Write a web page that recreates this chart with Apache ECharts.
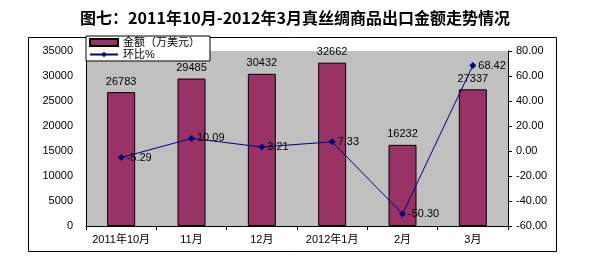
<!DOCTYPE html>
<html>
<head>
<meta charset="utf-8">
<script src="https://cdn.jsdelivr.net/npm/echarts@6/dist/echarts.min.js"></script>
<style>html,body{margin:0;padding:0;background:#fff;}#c{width:590px;height:261px;}</style>
</head>
<body>
<div id="c"></div>
<script>
const categories = ['2011年10月', '11月', '12月', '2012年1月', '2月', '3月'];
const amountValues = [26783, 29485, 30432, 32662, 16232, 27337];
const ratioValues = [-5.29, 10.09, 3.21, 7.33, -50.30, 68.42];
const leftTicks = { min: 0, max: 35000, interval: 5000 };
const rightTicks = { min: -60, max: 80, interval: 20 };
const titleText = '图七：2011年10月-2012年3月真丝绸商品出口金额走势情况';
const seriesNames = ['金额（万美元）', '环比%'];

const font = '"Liberation Sans", "Noto Sans CJK SC", sans-serif';
const chart = echarts.init(document.getElementById('c'), null, { renderer: 'canvas' });
chart.setOption({
  animation: false,
  backgroundColor: '#fff',
  title: {
    text: titleText, left: 'center', top: 5,
    textStyle: { fontSize: 16, fontWeight: 'bold', color: '#000', fontFamily: '"Noto Sans CJK SC", serif' }
  },
  graphic: [{
    type: 'rect', shape: { x: 28.5, y: 37.5, width: 528, height: 214 },
    style: { fill: null, stroke: '#000', lineWidth: 1 }, z: -1
  }],
  legend: {
    orient: 'vertical', left: 86, top: 36,
    backgroundColor: '#fff', borderColor: '#000', borderWidth: 1,
    padding: [1, 10, 1, 3], itemGap: 1, itemWidth: 28, itemHeight: 7,
    textStyle: { fontSize: 11, color: '#000', fontFamily: font },
    data: [
      { name: seriesNames[0], icon: 'rect' },
      { name: seriesNames[1] }
    ],
    z: 10
  },
  grid: { left: 86, right: 82, top: 51, bottom: 35, show: true, backgroundColor: '#c0c0c0', borderWidth: 0 },
  xAxis: {
    type: 'category', data: categories, boundaryGap: true,
    axisLine: { lineStyle: { color: '#000' } },
    axisTick: { show: true, alignWithLabel: false, length: 4, lineStyle: { color: '#000' } },
    axisLabel: { color: '#000', fontSize: 11, fontFamily: font, margin: 8, interval: 0 }
  },
  yAxis: [{
    type: 'value', min: leftTicks.min, max: leftTicks.max, interval: leftTicks.interval,
    axisLine: { show: true, lineStyle: { color: '#000' } },
    axisTick: { show: false },
    splitLine: { show: false },
    axisLabel: { color: '#000', fontSize: 11, fontFamily: font, margin: 13, formatter: v => String(v) }
  }, {
    type: 'value', min: rightTicks.min, max: rightTicks.max, interval: rightTicks.interval,
    position: 'right',
    axisLine: { show: true, lineStyle: { color: '#000' } },
    axisTick: { show: true, inside: false, length: 4, lineStyle: { color: '#000' } },
    splitLine: { show: false },
    axisLabel: { color: '#000', fontSize: 11, fontFamily: font, margin: 8, formatter: v => v.toFixed(2) }
  }],
  series: [{
    name: seriesNames[0], type: 'bar', data: amountValues, barWidth: 28,
    itemStyle: { color: '#993366', borderColor: '#000', borderWidth: 1 },
    label: { show: true, position: 'top', color: '#000', fontSize: 11, fontFamily: font, distance: 5 }
  }, {
    name: seriesNames[1], type: 'line', yAxisIndex: 1, data: ratioValues,
    symbol: 'diamond', symbolSize: 7,
    lineStyle: { color: '#000080', width: 1 },
    itemStyle: { color: '#000080' },
    label: { show: true, position: 'right', color: '#000', fontSize: 11, fontFamily: font, distance: 2,
      formatter: p => p.value.toFixed(2) },
    z: 5
  }]
});
</script>
</body>
</html>
